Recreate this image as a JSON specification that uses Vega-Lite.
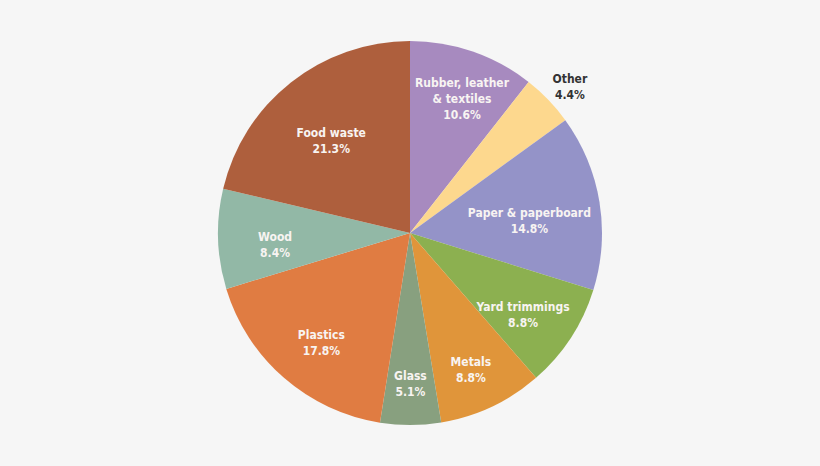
{
  "$schema": "https://vega.github.io/schema/vega-lite/v6.json",
  "autosize": {"type": "fit", "contains": "padding"},
  "width": 820,
  "height": 466,
  "background": "#f6f6f6",
  "config": {
    "view": {"stroke": null},
    "text": {"lineBreak": "\n", "font": "DejaVu Sans Condensed, sans-serif", "fontWeight": "bold", "fontSize": 12, "lineHeight": 16}
  },
  "data": {
    "values": [
      {"order": 1, "material": "Rubber, leather & textiles", "label": "Rubber, leather\n& textiles\n10.6%", "pct": 10.6},
      {"order": 2, "material": "Other", "label": "Other\n4.4%", "pct": 4.4},
      {"order": 3, "material": "Paper & paperboard", "label": "Paper & paperboard\n14.8%", "pct": 14.8},
      {"order": 4, "material": "Yard trimmings", "label": "Yard trimmings\n8.8%", "pct": 8.8},
      {"order": 5, "material": "Metals", "label": "Metals\n8.8%", "pct": 8.8},
      {"order": 6, "material": "Glass", "label": "Glass\n5.1%", "pct": 5.1},
      {"order": 7, "material": "Plastics", "label": "Plastics\n17.8%", "pct": 17.8},
      {"order": 8, "material": "Wood", "label": "Wood\n8.4%", "pct": 8.4},
      {"order": 9, "material": "Food waste", "label": "Food waste\n21.3%", "pct": 21.3}
    ]
  },
  "encoding": {
    "theta": {"field": "pct", "type": "quantitative", "stack": true},
    "order": {"field": "order", "type": "quantitative"},
    "color": {
      "field": "material",
      "type": "nominal",
      "legend": null,
      "scale": {
        "domain": ["Rubber, leather & textiles", "Other", "Paper & paperboard", "Yard trimmings", "Metals", "Glass", "Plastics", "Wood", "Food waste"],
        "range": ["#a78abf", "#fdd88e", "#9493c8", "#8cb050", "#e0953a", "#88a07f", "#e07c42", "#92b8a6", "#ae5f3d"]
      }
    }
  },
  "layer": [
    {"mark": {"type": "arc", "outerRadius": 192}},
    {
      "mark": {"type": "text", "radius": 135},
      "encoding": {
        "text": {"condition": {"test": "indexof(['Yard trimmings', 'Plastics', 'Wood'], datum.material) >= 0", "field": "label"}, "value": ""},
        "color": {"value": "#f8f4f2"}
      }
    },
    {
      "mark": {"type": "text", "radius": 143},
      "encoding": {
        "text": {"condition": {"test": "datum.material == 'Metals' || datum.material == 'Glass'", "field": "label"}, "value": ""},
        "color": {"value": "#f8f4f2"}
      }
    },
    {
      "mark": {"type": "text", "radius": 159},
      "encoding": {
        "text": {"condition": {"test": "datum.material == 'Rubber, leather & textiles'", "field": "label"}, "value": ""},
        "color": {"value": "#f8f4f2"}
      }
    },
    {
      "mark": {"type": "text", "radius": 121},
      "encoding": {
        "text": {"condition": {"test": "datum.material == 'Paper & paperboard'", "field": "label"}, "value": ""},
        "color": {"value": "#f8f4f2"}
      }
    },
    {
      "mark": {"type": "text", "radius": 127},
      "encoding": {
        "text": {"condition": {"test": "datum.material == 'Food waste'", "field": "label"}, "value": ""},
        "color": {"value": "#f8f4f2"}
      }
    },
    {
      "mark": {"type": "text", "radius": 222},
      "encoding": {
        "text": {"condition": {"test": "datum.material == 'Other'", "field": "label"}, "value": ""},
        "color": {"value": "#333333"}
      }
    }
  ]
}
